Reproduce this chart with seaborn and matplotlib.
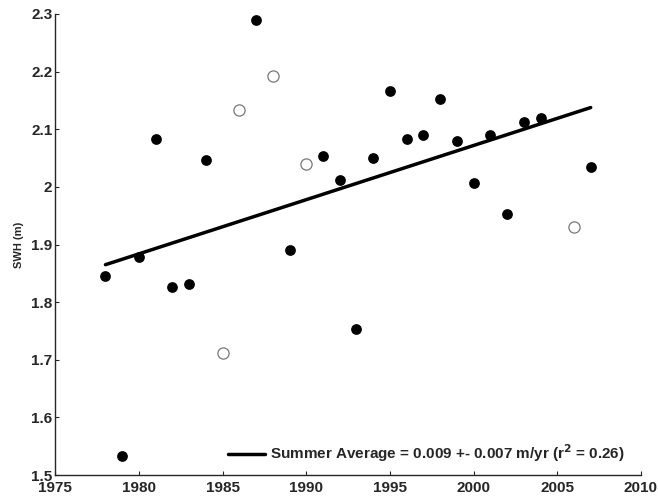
import numpy as np
import pandas as pd
import matplotlib
matplotlib.use("Agg")
import matplotlib.pyplot as plt
import seaborn as sns

# summer average SWH, filled markers
years = [1978, 1979, 1980, 1981, 1982, 1983, 1984, 1987, 1989, 1991, 1992,
         1993, 1994, 1995, 1996, 1997, 1998, 1999, 2000, 2001, 2002, 2003,
         2004, 2007]
swh = [1.845, 1.533, 1.878, 2.083, 1.826, 1.831, 2.047, 2.290, 1.890, 2.054,
       2.012, 1.753, 2.050, 2.166, 2.083, 2.090, 2.153, 2.080, 2.007, 2.090,
       1.953, 2.113, 2.120, 2.034]

# open markers
open_years = [1985, 1986, 1988, 1990, 2006]
open_swh = [1.711, 2.133, 2.193, 2.040, 1.930]

# trend line
trend_years = [1978, 2007]
trend_start = 1.865
trend_slope = 0.0094
legend_label = "Summer Average = 0.009 +- 0.007 m/yr (r$^2$ = 0.26)"

sns.set_style("ticks")
plt.rcParams["font.family"] = ["Liberation Sans", "DejaVu Sans"]
plt.rcParams["font.weight"] = "bold"
plt.rcParams["mathtext.default"] = "bf"
plt.rcParams["xtick.direction"] = "in"
plt.rcParams["ytick.direction"] = "in"

df = pd.DataFrame({"year": years, "swh": swh})
df_open = pd.DataFrame({"year": open_years, "swh": open_swh})
df_trend = pd.DataFrame({"year": trend_years})
df_trend["swh"] = trend_start + trend_slope * (df_trend["year"] - trend_years[0])

fig = plt.figure(figsize=(6.58, 4.98), dpi=100)
ax = fig.add_axes([0.084, 0.046, 0.890, 0.926])

sns.scatterplot(data=df, x="year", y="swh", ax=ax, color="black", s=60,
                edgecolor="black", linewidth=0, zorder=3)
sns.scatterplot(data=df_open, x="year", y="swh", ax=ax, facecolor="white",
                edgecolor="#777777", s=65, linewidth=0.9, zorder=3)
sns.lineplot(data=df_trend, x="year", y="swh", ax=ax, color="black",
             linewidth=2.5, label=legend_label, zorder=2)

ax.set(xlim=(1975, 2010), ylim=(1.5, 2.3))
ax.set_xticks(range(1975, 2011, 5))
ax.set_yticks([1.5, 1.6, 1.7, 1.8, 1.9, 2.0, 2.1, 2.2, 2.3])
ax.set_yticklabels(["1.5", "1.6", "1.7", "1.8", "1.9", "2", "2.1", "2.2", "2.3"])
ax.tick_params(labelsize=11, length=3, width=0.8)
ax.tick_params(axis="x", pad=4)
ax.tick_params(axis="y", pad=2)
for lbl in ax.get_xticklabels() + ax.get_yticklabels():
    lbl.set_fontweight("bold")
ax.set_xlabel("")
ax.set_ylabel("SWH (m)", fontsize=8, fontweight="bold", labelpad=5)
for spine in ("top", "right"):
    ax.spines[spine].set_visible(False)
for spine in ("left", "bottom"):
    ax.spines[spine].set_linewidth(1.0)

leg = ax.legend(loc="lower right", frameon=False, fontsize=11,
                handlelength=2.4, borderaxespad=0.3, handletextpad=0.3,
                bbox_to_anchor=(0.99, 0.0))
for t in leg.get_texts():
    t.set_fontweight("bold")

fig.patch.set_facecolor("w")
fig.savefig("out.png", dpi=100)
